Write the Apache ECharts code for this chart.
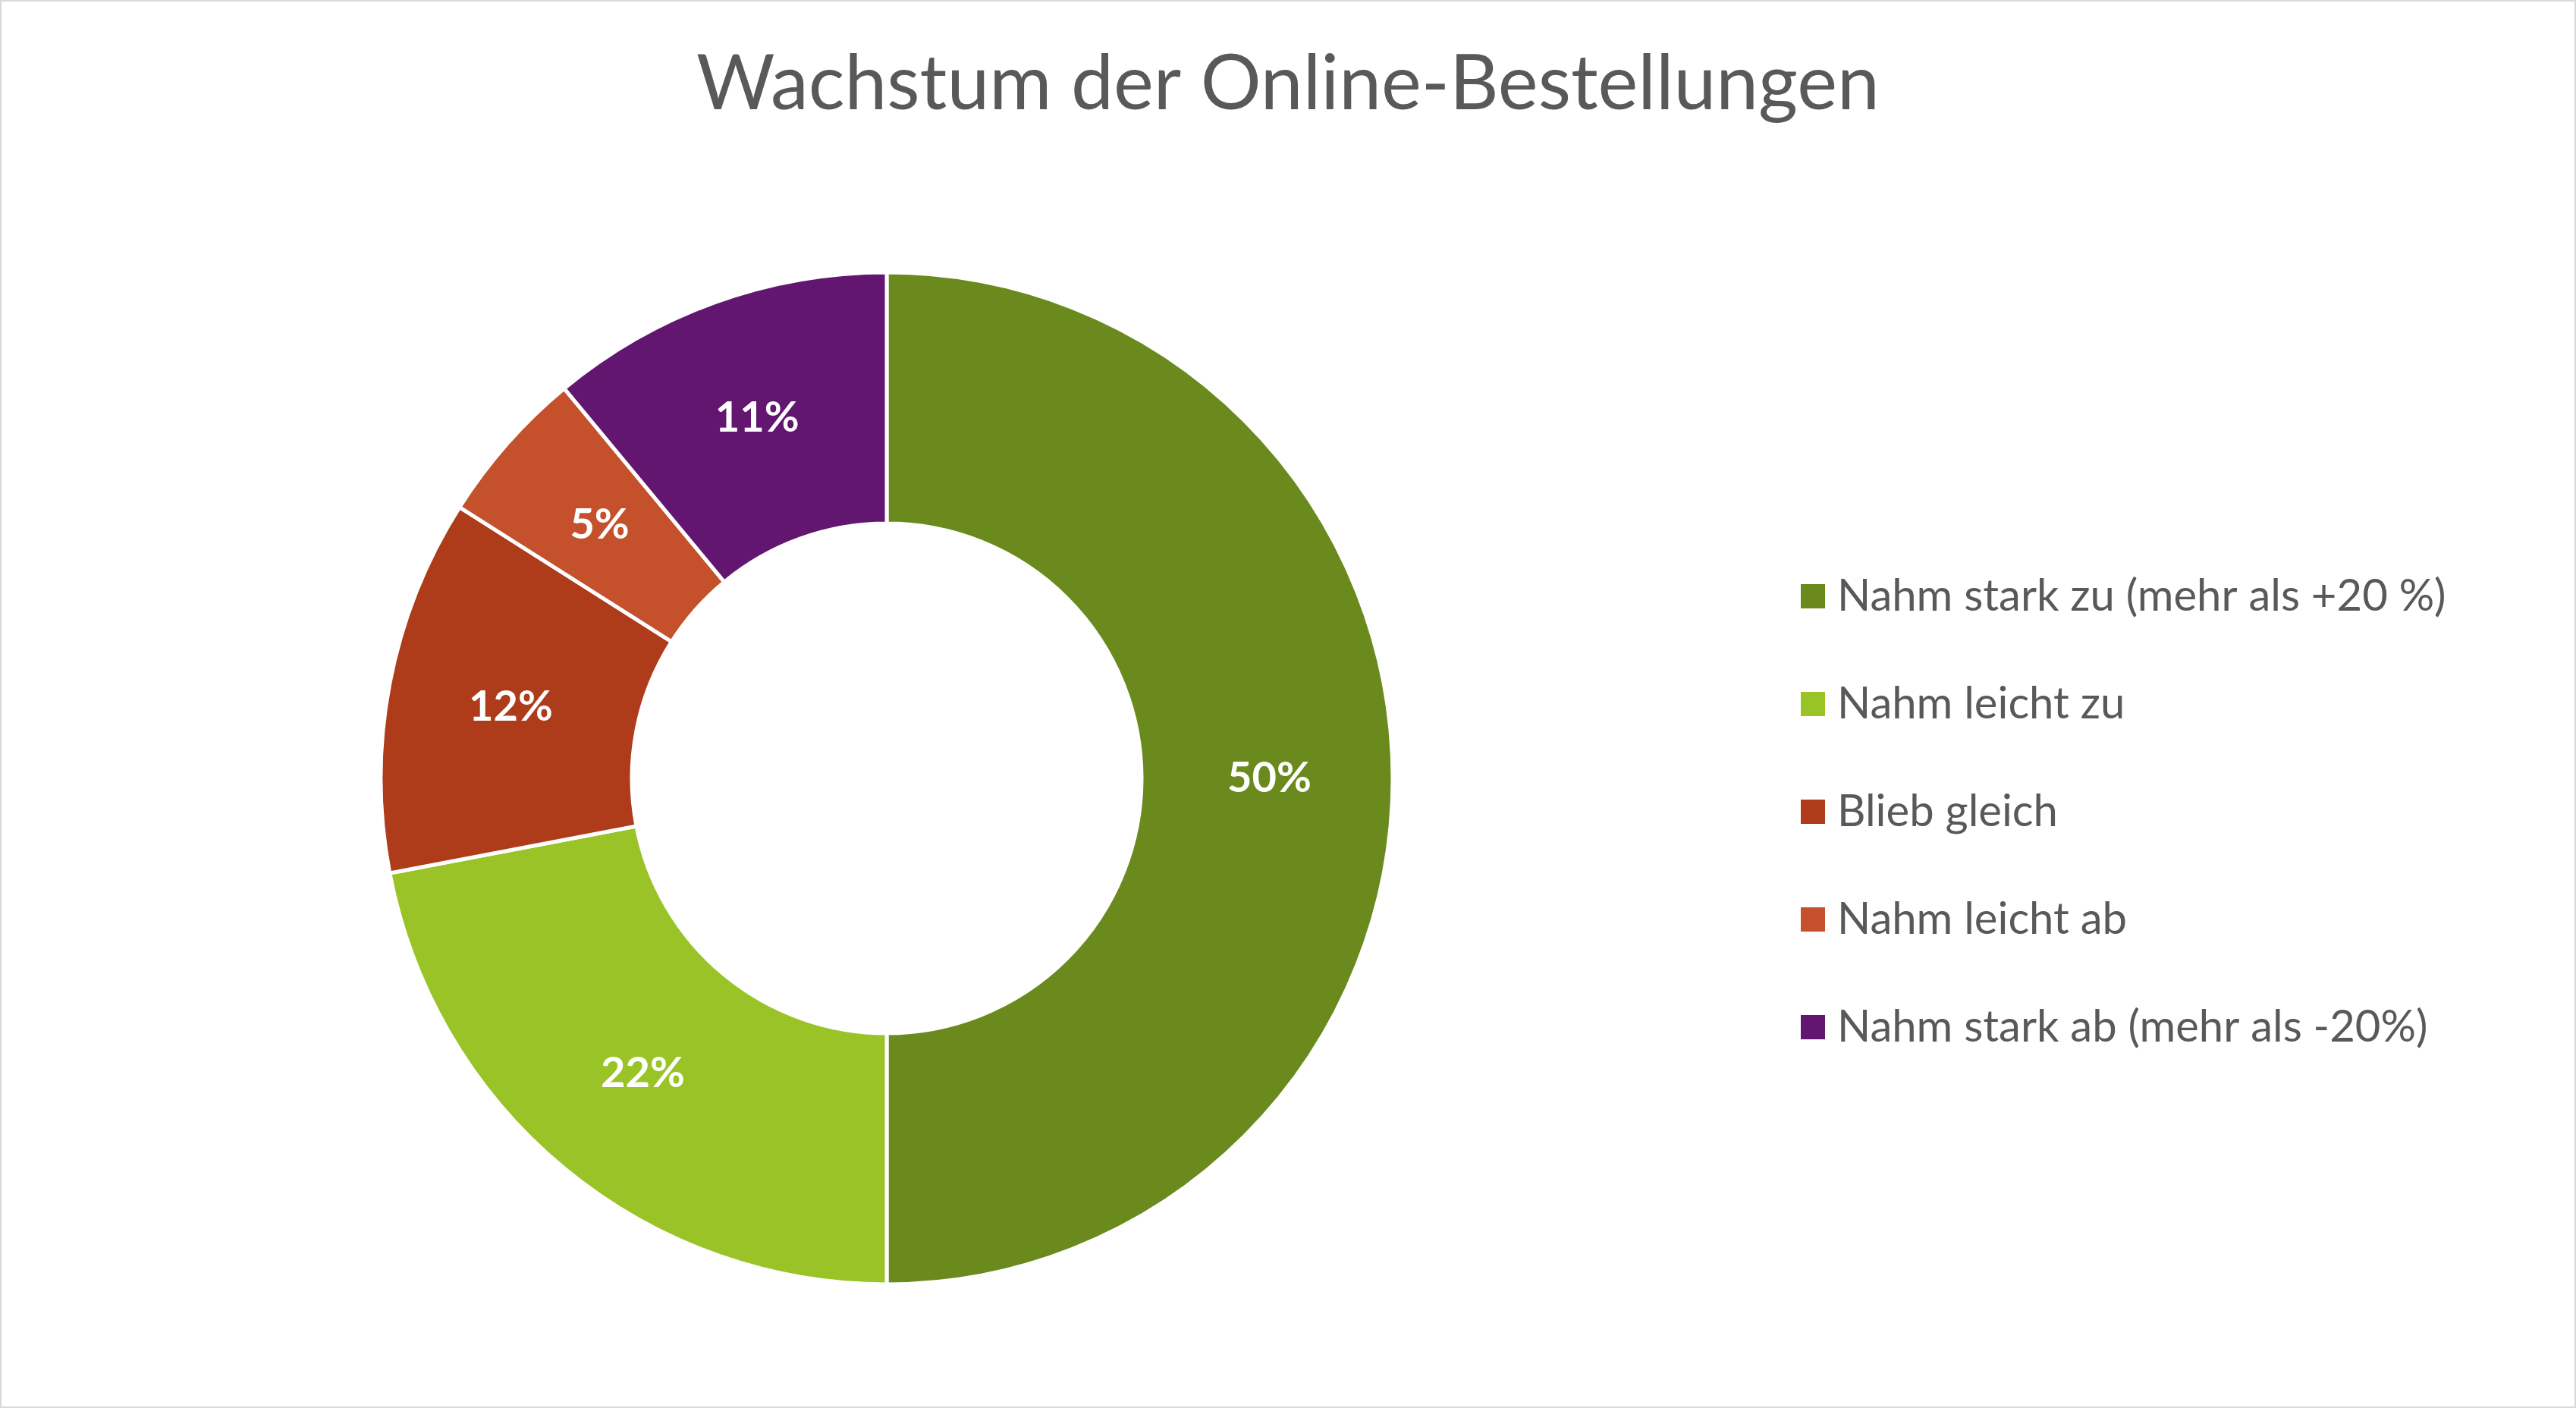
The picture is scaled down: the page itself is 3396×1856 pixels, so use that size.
<!DOCTYPE html>
<html lang="de">
<head>
    <meta charset="UTF-8">
    <title>Wachstum der Online-Bestellungen</title>
    <style>
        html, body { margin: 0; padding: 0; background: #fff; }
        #main { width: 3396px; height: 1856px; box-sizing: border-box; border: 2px solid #d9d9d9; }
    </style>
</head>
<body>
<div id="main"></div>
<script src="https://cdn.jsdelivr.net/npm/echarts@6/dist/echarts.min.js"></script>
<script>
    // Daten
    var categories = ['Nahm stark zu (mehr als +20 %)', 'Nahm leicht zu', 'Blieb gleich', 'Nahm leicht ab', 'Nahm stark ab (mehr als -20%)'];
    var values = [50, 22, 12, 5, 11];
    var colors = ['#6a8a1e', '#9ac328', '#ae3b1a', '#c5502c', '#62166f'];

    var chart = echarts.init(document.getElementById('main'));
    var option = {
        color: colors,
        title: {
            text: 'Wachstum der Online-Bestellungen',
            left: 'center',
            top: 55,
            textStyle: { fontFamily: 'Lato', fontWeight: 'normal', fontSize: 100, color: '#595959' }
        },
        legend: {
            orient: 'vertical',
            left: 2365,
            top: 750,
            itemWidth: 34,
            itemHeight: 34,
            itemGap: 84,
            icon: 'rect',
            textStyle: { fontFamily: 'Lato', fontSize: 58, color: '#595959', padding: [0, 0, 0, 10] },
            data: categories
        },
        series: [{
            type: 'pie',
            center: [1167, 1024],
            radius: [336, 667],
            startAngle: 90,
            clockwise: true,
            itemStyle: { borderColor: '#fff', borderWidth: 5 },
            label: {
                position: 'inside',
                formatter: '{c}%',
                color: '#fff',
                fontFamily: 'Lato',
                fontWeight: 'bold',
                fontSize: 56
            },
            labelLine: { show: false },
            data: categories.map(function (c, i) { return { name: c, value: values[i] }; })
        }]
    };
    chart.setOption(option);
</script>
</body>
</html>
